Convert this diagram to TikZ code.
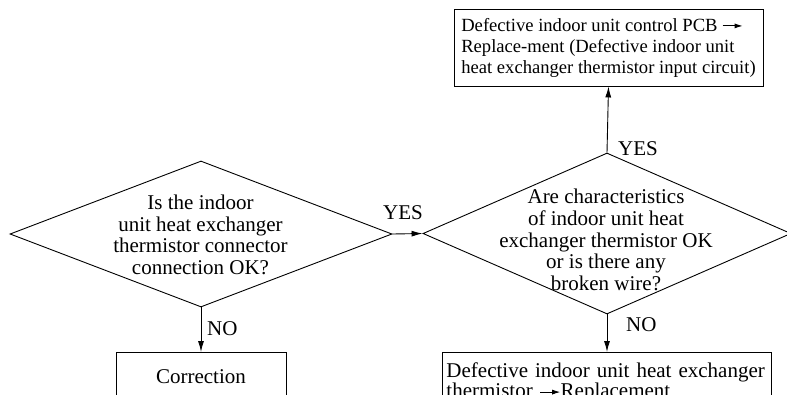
\documentclass[tikz,border=0pt]{standalone}
\usepackage{fontspec}
\setmainfont{Liberation Serif}
\usetikzlibrary{shapes.geometric,arrows.meta}
\tikzset{
  dshape/.style={shape=diamond,draw,line width=0.9pt,inner sep=0pt},
  dtext/.style={align=center,inner sep=0pt,font=\fontsize{21pt}{21.6pt}\selectfont},
  abox/.style={draw,line width=0.9pt,align=left,font=\fontsize{21pt}{20.5pt}\selectfont},
  lbl/.style={anchor=west,inner sep=0pt,font=\fontsize{21pt}{21pt}\selectfont},
  arr/.style={line width=0.9pt,-{Latex[length=11pt,width=6pt]}}
}
\newcommand{\inarrow}{\tikz[baseline=-0.6ex]\draw[line width=0.9pt,-{Latex[length=8pt,width=5pt]}] (0pt,0pt)--(20pt,0pt);}
\begin{document}
\begin{tikzpicture}[x=1pt,y=-1pt]
\useasboundingbox (0,0) rectangle (787,394);
% diamonds
\node[dshape,minimum width=382pt,minimum height=146pt] (d1) at (201,234) {};
\node[dtext] (t1) at (200.5,235) {Is the indoor\\unit heat exchanger\\thermistor connector\\connection OK?};
\node[dshape,minimum width=368pt,minimum height=161pt] (d2) at (607,233.5) {};
\node[dtext] (t2) at (606,240) {Are characteristics\\of indoor unit heat\\exchanger thermistor OK\\or is there any\\broken wire?};
% boxes
\node[abox,font=\fontsize{18.6pt}{21pt}\selectfont,minimum width=309pt,minimum height=77pt,inner xsep=4pt,inner ysep=0pt] (top) at (608.5,47.5)
  {Defective indoor unit control PCB \inarrow\\Replace-ment (Defective indoor unit\\heat exchanger thermistor input circuit)};
\node[abox,anchor=north,minimum width=170pt,text width=150pt,align=center,text height=14pt,text depth=5pt,inner ysep=17pt] (corr) at (201,352) {Correction};
\node[abox,anchor=north west,text width=321pt,inner xsep=4pt,inner ysep=6pt,minimum height=60pt] (repl) at (442,352)
  {Defective indoor unit heat exchanger\\thermistor \inarrow Replacement};
% connectors
\draw[arr] (d1.east) -- (d2.west);
\draw[arr] (d2.north) -- (top.south);
\draw[arr] (d1.south) -- (corr.north);
\draw[arr] (d2.south) -- (d2.south |- repl.north);
% labels
\node[lbl] (y1) at (383,213) {YES};
\node[lbl] (y2) at (618,149) {YES};
\node[lbl] (n1) at (207,329) {NO};
\node[lbl] (n2) at (626,325) {NO};
\end{tikzpicture}
\end{document}
